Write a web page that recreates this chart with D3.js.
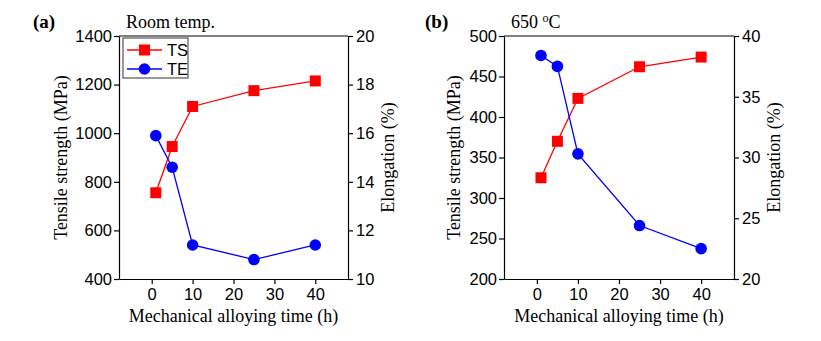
<!DOCTYPE html>
<html>
<head>
<meta charset="utf-8">
<script src="https://cdn.jsdelivr.net/npm/d3@7"></script>
<style>
  html, body { margin: 0; padding: 0; background: #fff; }
  svg { display: block; }
  .tick text { font-family: "Liberation Sans", Arial, sans-serif; font-size: 16.5px; fill: #000; }
  .axis path, .axis line { stroke: #000; stroke-width: 1.2px; }
  .title { font-family: "Liberation Serif", "Times New Roman", serif; font-size: 18px; fill: #000; }
</style>
</head>
<body>
<svg id="chart" width="821" height="341"></svg>
<script>
// Mechanical alloying time (h)
const times = [1, 5, 10, 25, 40];
const xTicks = [0, 10, 20, 30, 40];

// (a) room temperature
const tsRoom = [755, 945, 1110, 1175, 1215];   // tensile strength, MPa
const teRoom = [15.9, 14.6, 11.4, 10.8, 11.4];  // elongation, %
const tsRoomTicks = [400, 600, 800, 1000, 1200, 1400];
const teRoomTicks = [10, 12, 14, 16, 18, 20];

// (b) 650 °C
const tsHot = [325, 370, 423, 462, 474];
const teHot = [38.4, 37.5, 30.3, 24.4, 22.5];
const tsHotTicks = [200, 250, 300, 350, 400, 450, 500];
const teHotTicks = [20, 25, 30, 35, 40];

const RED = "#ff0000", BLUE = "#0000ff";
const svg = d3.select("#chart");
const fmt = d3.format("d");

function panel(opt) {
  const top = 36, bottom = 279;
  const x = d3.scaleLinear().domain([-8, 48]).range([opt.left, opt.right]);
  const yL = d3.scaleLinear().domain(opt.tsDomain).range([bottom, top]);
  const yR = d3.scaleLinear().domain(opt.teDomain).range([bottom, top]);
  const g = svg.append("g");

  // frame top edge
  g.append("line").attr("x1", opt.left).attr("x2", opt.right)
    .attr("y1", top).attr("y2", top).attr("stroke", "#000").attr("stroke-width", 1.2);

  g.append("g").attr("class", "axis").attr("transform", `translate(0,${bottom})`)
    .call(d3.axisBottom(x).tickValues(xTicks).tickFormat(fmt).tickSize(5).tickPadding(4).tickSizeOuter(0));
  g.append("g").attr("class", "axis").attr("transform", `translate(${opt.left},0)`)
    .call(d3.axisLeft(yL).tickValues(opt.tsTicks).tickFormat(fmt).tickSize(5).tickPadding(2).tickSizeOuter(0));
  g.append("g").attr("class", "axis").attr("transform", `translate(${opt.right},0)`)
    .call(d3.axisRight(yR).tickValues(opt.teTicks).tickFormat(fmt).tickSize(5).tickPadding(3).tickSizeOuter(0));

  // tensile strength series
  const ptsTS = times.map((t, i) => [x(t), yL(opt.ts[i])]);
  g.append("path").attr("d", d3.line()(ptsTS)).attr("fill", "none")
    .attr("stroke", RED).attr("stroke-width", 1.3);
  g.selectAll(null).data(ptsTS).join("rect")
    .attr("x", d => d[0] - 5.5).attr("y", d => d[1] - 5.5)
    .attr("width", 11).attr("height", 11).attr("fill", RED);

  // elongation series
  const ptsTE = times.map((t, i) => [x(t), yR(opt.te[i])]);
  g.append("path").attr("d", d3.line()(ptsTE)).attr("fill", "none")
    .attr("stroke", BLUE).attr("stroke-width", 1.3);
  g.selectAll(null).data(ptsTE).join("circle")
    .attr("cx", d => d[0]).attr("cy", d => d[1]).attr("r", 5.8).attr("fill", BLUE);

  // axis titles
  const cx = (opt.left + opt.right) / 2;
  g.append("text").attr("class", "title").attr("x", cx).attr("y", 322)
    .attr("text-anchor", "middle").text("Mechanical alloying time (h)");
  g.append("text").attr("class", "title").attr("text-anchor", "middle")
    .attr("transform", `translate(${opt.left - opt.yTitleGap},${(top + bottom) / 2}) rotate(-90)`)
    .text("Tensile strength (MPa)");
  g.append("text").attr("class", "title").attr("text-anchor", "middle")
    .attr("transform", `translate(${opt.right + 46},${(top + bottom) / 2}) rotate(-90)`)
    .text("Elongation (%)");

  // panel letter and condition
  g.append("text").attr("class", "title").attr("x", opt.letterX).attr("y", 28)
    .style("font-weight", "bold").style("font-size", "19px").text(opt.letter);
  const cond = g.append("text").attr("class", "title").attr("x", opt.left + 7).attr("y", 28);
  opt.cond(cond);
  return { g, x, yL, yR };
}

const a = panel({
  left: 119, right: 348, letter: "(a)", letterX: 33, yTitleGap: 52,
  tsDomain: [400, 1400], teDomain: [10, 20],
  tsTicks: tsRoomTicks, teTicks: teRoomTicks, ts: tsRoom, te: teRoom,
  cond: t => t.text("Room temp.")
});

panel({
  left: 504, right: 734, letter: "(b)", letterX: 425, yTitleGap: 44,
  tsDomain: [200, 500], teDomain: [20, 40],
  tsTicks: tsHotTicks, teTicks: teHotTicks, ts: tsHot, te: teHot,
  cond: t => {
    t.append("tspan").text("650 ");
    t.append("tspan").style("font-size", "12px").attr("dy", -6).text("o");
    t.append("tspan").attr("dy", 6).text("C");
  }
});

// legend in panel (a)
const leg = a.g.append("g").attr("transform", "translate(123,38)");
leg.append("rect").attr("width", 65).attr("height", 40)
  .attr("fill", "#fff").attr("stroke", "#333").attr("stroke-width", 1);
const legendItems = [
  { name: "TS", color: RED, shape: "square", y: 12 },
  { name: "TE", color: BLUE, shape: "circle", y: 31 }
];
legendItems.forEach(it => {
  leg.append("line").attr("x1", 4).attr("x2", 39).attr("y1", it.y).attr("y2", it.y)
    .attr("stroke", it.color).attr("stroke-width", 1.3);
  if (it.shape === "square") {
    leg.append("rect").attr("x", 21.5 - 5.5).attr("y", it.y - 5.5)
      .attr("width", 11).attr("height", 11).attr("fill", it.color);
  } else {
    leg.append("circle").attr("cx", 21.5).attr("cy", it.y).attr("r", 5.8).attr("fill", it.color);
  }
  leg.append("text").attr("x", 44).attr("y", it.y + 6)
    .attr("font-family", "Liberation Sans, Arial, sans-serif").attr("font-size", "16.5px")
    .text(it.name);
});
</script>
</body>
</html>
